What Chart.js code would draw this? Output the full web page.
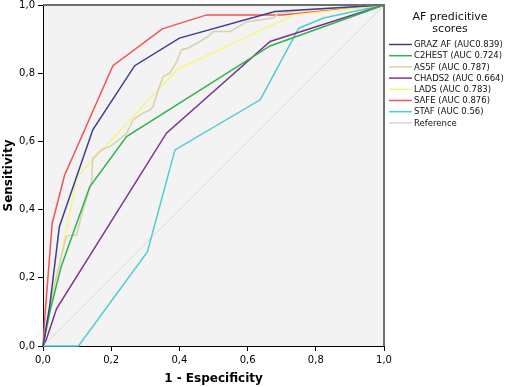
<!DOCTYPE html>
<html>
<head>
<meta charset="utf-8">
<script src="https://cdn.jsdelivr.net/npm/chart.js@4"></script>
<style>
  body { margin: 0; background: #fff; }
  canvas { display: block; }
</style>
</head>
<body>
<canvas id="roc" width="510" height="387"></canvas>
<script>
// --- ROC data (1 - specificity, sensitivity) ---
const labels = [
  'GRAZ AF (AUC0.839)', 'C2HEST (AUC 0.724)', 'AS5F (AUC 0.787)', 'CHADS2 (AUC 0.664)',
  'LADS (AUC 0.783)', 'SAFE (AUC 0.876)', 'STAF (AUC 0.56)', 'Reference'
];
const colors = ['#3b3f8f', '#2fb34f', '#d9d1a9', '#7e3391', '#faf47c', '#f25454', '#4ecdd4', '#d6d6d6'];

const grazX = [0, 0.02, 0.048, 0.146, 0.269, 0.40, 0.68, 1];
const grazY = [0, 0.12, 0.35, 0.634, 0.822, 0.903, 0.981, 1];

const c2hestX = [0, 0.02, 0.053, 0.137, 0.245, 0.666, 1];
const c2hestY = [0, 0.10, 0.232, 0.467, 0.614, 0.88, 1];

const as5fX = [0, 0.034, 0.068, 0.078, 0.098, 0.117, 0.142, 0.146, 0.171, 0.196, 0.215, 0.245, 0.264, 0.284,
  0.313, 0.323, 0.338, 0.352, 0.372, 0.392, 0.406, 0.426, 0.46, 0.485, 0.499, 0.549, 0.598, 0.676, 0.69, 0.764, 1];
const as5fY = [0, 0.183, 0.32, 0.325, 0.325, 0.399, 0.477, 0.55, 0.575, 0.585, 0.599, 0.624, 0.663, 0.678,
  0.692, 0.702, 0.751, 0.79, 0.80, 0.834, 0.869, 0.874, 0.893, 0.908, 0.922, 0.922, 0.951, 0.962, 0.976, 0.985, 1];

const chadsX = [0, 0.01, 0.04, 0.362, 0.666, 1];
const chadsY = [0, 0.02, 0.11, 0.624, 0.893, 1];

const ladsX = [0, 0.02, 0.10, 0.392, 0.735, 1];
const ladsY = [0, 0.10, 0.496, 0.81, 0.971, 1];

const safeX = [0, 0.005, 0.027, 0.063, 0.205, 0.35, 0.48, 0.70, 1];
const safeY = [0, 0.08, 0.36, 0.50, 0.822, 0.93, 0.971, 0.971, 1];

const stafX = [0, 0.104, 0.306, 0.387, 0.637, 0.75, 0.823, 1];
const stafY = [0, 0, 0.276, 0.575, 0.722, 0.932, 0.962, 1];

const refX = [0, 1];
const refY = [0, 1];

const xTicks = [0, 0.2, 0.4, 0.6, 0.8, 1.0];

const seriesX = [grazX, c2hestX, as5fX, chadsX, ladsX, safeX, stafX, refX];
const seriesY = [grazY, c2hestY, as5fY, chadsY, ladsY, safeY, stafY, refY];

const datasets = labels.map((label, i) => ({
  label,
  data: seriesX[i].map((x, j) => ({ x, y: seriesY[i][j] })),
  borderColor: colors[i],
  borderWidth: i === 7 ? 1 : 1.5,
  showLine: true,
  pointRadius: 0,
  tension: 0,
  clip: 2
}));

const fmt = v => v.toFixed(1).replace('.', ',');

// plot background and the grey top/right frame
const frame = {
  id: 'frame',
  beforeDraw(chart) {
    const { ctx, chartArea: a } = chart;
    ctx.save();
    ctx.fillStyle = '#f3f3f3';
    ctx.fillRect(a.left, a.top, a.right - a.left, a.bottom - a.top);
    ctx.restore();
  },
  afterDatasetsDraw(chart) {
    const { ctx, chartArea: a } = chart;
    ctx.save();
    ctx.strokeStyle = '#6f6f6f';
    ctx.lineWidth = 2;
    ctx.beginPath();
    ctx.moveTo(a.left, a.top);
    ctx.lineTo(a.right, a.top);
    ctx.lineTo(a.right, a.bottom);
    ctx.stroke();
    ctx.restore();
  }
};

// legend block on the right
const sideLegend = {
  id: 'sideLegend',
  afterDraw(chart) {
    const ctx = chart.ctx;
    ctx.save();
    ctx.fillStyle = '#111';
    ctx.textAlign = 'center';
    ctx.textBaseline = 'middle';
    ctx.font = '11px "DejaVu Sans"';
    ctx.fillText('AF predicitive', 450, 17);
    ctx.fillText('scores', 450, 29);
    ctx.textAlign = 'left';
    ctx.font = '8.5px "DejaVu Sans"';
    chart.data.datasets.forEach((ds, i) => {
      const y = 44.5 + i * 11.2;
      ctx.strokeStyle = ds.borderColor;
      ctx.lineWidth = 1.5;
      ctx.beginPath();
      ctx.moveTo(389, y);
      ctx.lineTo(412, y);
      ctx.stroke();
      ctx.fillStyle = '#111';
      ctx.fillText(ds.label, 414, y + 0.5);
    });
    ctx.restore();
  }
};

new Chart(document.getElementById('roc'), {
  type: 'scatter',
  data: { datasets },
  options: {
    responsive: false,
    animation: false,
    events: [],
    layout: { padding: { top: 5, right: 126, left: 0, bottom: 0 } },
    plugins: { legend: { display: false }, tooltip: { enabled: false } },
    scales: {
      x: {
        type: 'linear', min: 0, max: 1,
        afterFit: s => { s.height = 41; },
        afterBuildTicks: s => { s.ticks = xTicks.map(v => ({ value: v })); },
        ticks: { callback: fmt, font: { family: 'DejaVu Sans', size: 10 }, color: '#000', maxRotation: 0 },
        grid: { drawOnChartArea: false, tickLength: 5, color: '#000' },
        border: { color: '#000', width: 1 },
        title: { display: true, text: '1 - Especificity', color: '#000',
          font: { family: 'DejaVu Sans', size: 12, weight: 'bold' }, padding: { top: 0, bottom: 1 } }
      },
      y: {
        type: 'linear', min: 0, max: 1,
        afterFit: s => { s.width = 43; s.paddingTop = 0; s.paddingBottom = 0; },
        afterBuildTicks: s => { s.ticks = xTicks.map(v => ({ value: v })); },
        ticks: { callback: fmt, font: { family: 'DejaVu Sans', size: 10 }, color: '#000' },
        grid: { drawOnChartArea: false, tickLength: 5, color: '#000' },
        border: { color: '#000', width: 1 },
        title: { display: true, text: 'Sensitivity', color: '#000',
          font: { family: 'DejaVu Sans', size: 12, weight: 'bold' }, padding: { top: 2, bottom: 0 } }
      }
    }
  },
  plugins: [frame, sideLegend]
});
</script>
</body>
</html>
